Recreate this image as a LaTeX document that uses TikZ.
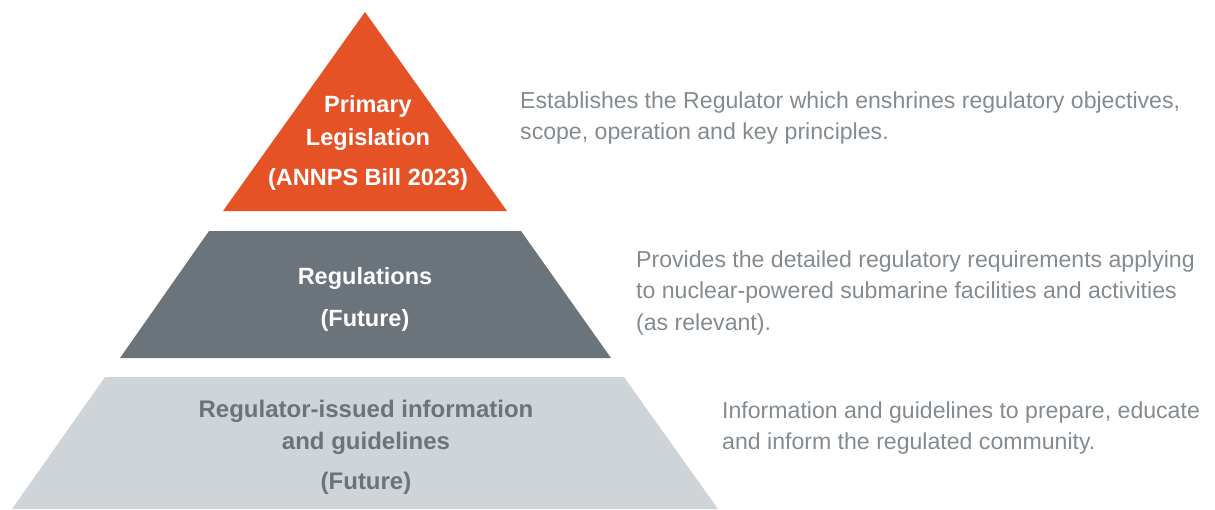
\documentclass[tikz,border=0pt]{standalone}
\usepackage{fontspec}
\setmainfont{Liberation Sans}
\definecolor{legorange}{HTML}{E55226}
\definecolor{reggray}{HTML}{6A747A}
\definecolor{guidegray}{HTML}{CFD4D8}
\definecolor{notegray}{HTML}{848B90}
\tikzset{
  layer/.style={draw=none},
  tiertext/.style={anchor=base, font=\bfseries\fontsize{23.5}{28}\selectfont, inner sep=0pt},
  basetext/.style={tiertext, font=\bfseries\fontsize{24}{28}\selectfont, text=reggray},
  notetext/.style={anchor=base west, font=\fontsize{23.1}{27}\selectfont, text=notegray, inner sep=0pt},
}
\begin{document}
\begin{tikzpicture}[x=1pt, y=-1pt]
  \useasboundingbox (0,0) rectangle (1215,509);

  % pyramid tiers
  \fill[legorange] (365,12) -- (507,211) -- (223,211) -- cycle;
  \fill[reggray] (209,231) -- (521,231) -- (611,358) -- (120,358) -- cycle;
  \fill[guidegray] (105,377) -- (624,377) -- (718,509) -- (12,509) -- cycle;

  % tier labels
  \node[tiertext, text=white] (prim1) at (368,112) {Primary};
  \node[tiertext, text=white] (prim2) at (368,145) {Legislation};
  \node[tiertext, text=white] (prim3) at (368,185) {(ANNPS Bill 2023)};

  \node[tiertext, text=white] (reg1) at (365,284) {Regulations};
  \node[tiertext, text=white] (reg2) at (365,326) {(Future)};

  \node[basetext] (guide1) at (366,417) {Regulator-issued information};
  \node[basetext] (guide2) at (366,449) {and guidelines};
  \node[basetext] (guide3) at (366,489) {(Future)};

  % descriptions
  \node[notetext] (desc1a) at (520,108) {Establishes the Regulator which enshrines regulatory objectives,};
  \node[notetext] (desc1b) at (520,139) {scope, operation and key principles.};

  \node[notetext] (desc2a) at (636,267) {Provides the detailed regulatory requirements applying};
  \node[notetext] (desc2b) at (636,298) {to nuclear-powered submarine facilities and activities};
  \node[notetext] (desc2c) at (636,330) {(as relevant).};

  \node[notetext] (desc3a) at (722,418) {Information and guidelines to prepare, educate};
  \node[notetext] (desc3b) at (722,449) {and inform the regulated community.};
\end{tikzpicture}
\end{document}
